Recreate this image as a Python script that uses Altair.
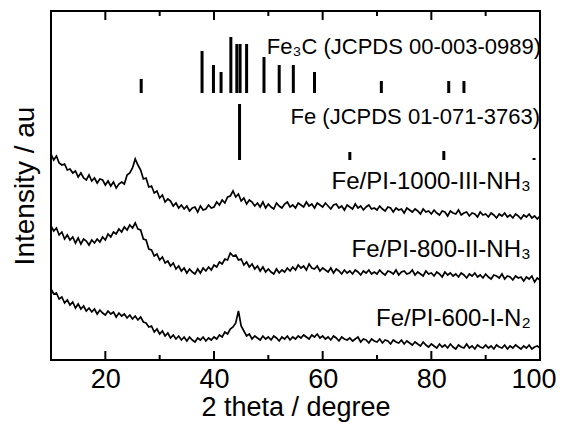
import altair as alt
import pandas as pd

FONT = "Liberation Sans"

# ---- XRD patterns (intensity in arbitrary offset units), sampled every 0.5 deg from 10 deg ----
x_start = 10.0
x_step = 0.5

curve_1000 = [
    206, 200, 204, 197, 195, 196, 190, 191, 187, 189,
    183, 187, 182, 180, 185, 179, 182, 177, 181, 180,
    175, 179, 174, 178, 172, 176, 178, 176, 185, 187,
    192, 201, 195, 190, 181, 182, 173, 174, 167, 169,
    162, 165, 158, 161, 159, 154, 157, 152, 155, 151,
    154, 149, 152, 153, 148, 154, 150, 151, 155, 152,
    153, 158, 155, 160, 157, 163, 164, 169, 163, 166,
    159, 162, 156, 160, 158, 154, 157, 153, 158, 152,
    156, 153, 151, 157, 154, 152, 156, 158, 153, 155,
    152, 157, 155, 153, 158, 154, 156, 152, 157, 155,
    153, 157, 154, 151, 155, 156, 152, 154, 150, 155,
    153, 151, 156, 152, 154, 150, 153, 155, 151, 152,
    150, 154, 151, 149, 153, 152, 148, 152, 150, 151,
    147, 152, 150, 148, 151, 149, 146, 151, 148, 149,
    146, 150, 147, 145, 149, 148, 144, 149, 147, 146,
    150, 145, 147, 148, 144, 147, 146, 143, 148, 145,
    146, 143, 147, 145, 142, 146, 144, 147, 143, 145,
    142, 146, 144, 141, 145, 143, 146, 142, 144, 141,
    144,
]

curve_800 = [
    134, 129, 132, 125, 128, 121, 125, 120, 123, 117,
    122, 116, 121, 119, 115, 120, 117, 121, 118, 123,
    120, 126, 123, 128, 126, 131, 128, 133, 130, 135,
    132, 137, 131, 130, 121, 120, 111, 110, 104, 106,
    100, 103, 97, 99, 94, 97, 91, 94, 89, 92,
    87, 91, 88, 86, 91, 87, 92, 89, 93, 90,
    95, 93, 98, 96, 101, 100, 107, 104, 105, 100,
    101, 95, 98, 93, 96, 91, 94, 89, 93, 88,
    91, 88, 86, 91, 87, 90, 88, 92, 89, 93,
    90, 95, 92, 94, 90, 96, 92, 91, 94, 89,
    92, 90, 88, 92, 87, 91, 89, 86, 90, 87,
    89, 86, 90, 88, 85, 89, 87, 90, 86, 88,
    86, 90, 87, 85, 89, 88, 86, 90, 85, 88,
    89, 86, 87, 90, 85, 88, 86, 84, 89, 86,
    87, 84, 88, 86, 83, 88, 85, 87, 84, 86,
    83, 87, 85, 82, 86, 84, 87, 83, 85, 82,
    86, 83, 81, 85, 84, 82, 86, 81, 84, 83,
    80, 84, 82, 83, 79, 83, 81, 84, 78, 82,
    80,
]

curve_600 = [
    71, 66, 67, 61, 63, 57, 60, 55, 58, 52,
    56, 51, 54, 49, 52, 48, 51, 46, 50, 47,
    45, 49, 46, 48, 43, 47, 44, 46, 42, 45,
    41, 44, 40, 43, 38, 37, 33, 34, 28, 31,
    26, 29, 24, 27, 22, 25, 21, 24, 20, 23,
    19, 23, 20, 18, 22, 20, 23, 19, 22, 20,
    23, 21, 25, 23, 28, 26, 31, 33, 37, 49,
    34, 29, 24, 26, 21, 24, 22, 20, 24, 21,
    23, 20, 24, 22, 19, 23, 21, 24, 20, 23,
    21, 24, 22, 25, 23, 21, 25, 23, 26, 22,
    24, 21, 23, 20, 24, 22, 19, 23, 21, 20,
    22, 19, 21, 23, 18, 21, 20, 17, 21, 19,
    18, 21, 17, 20, 19, 16, 20, 18, 17, 20,
    16, 19, 17, 15, 18, 16, 14, 18, 15, 13,
    16, 14, 12, 16, 13, 15, 12, 16, 13, 11,
    15, 13, 12, 16, 12, 14, 11, 15, 13, 12,
    15, 12, 14, 11, 15, 13, 12, 15, 11, 14,
    12, 15, 13, 11, 14, 12, 15, 11, 13, 14,
    12,
]

series_names = ["Fe/PI-1000-III-NH3", "Fe/PI-800-II-NH3", "Fe/PI-600-I-N2"]
series_values = [curve_1000, curve_800, curve_600]

# ---- Reference stick patterns ----
fe3c_pos = [26.6, 37.8, 39.9, 41.3, 43.1, 44.2, 44.8, 46.0, 49.2, 52.0, 54.6, 58.5, 70.8, 83.2, 86.0]
fe3c_top = [281, 309, 295, 288, 323, 316, 316, 316, 303, 295, 295, 288, 279, 279, 279]
fe3c_base = 267

fe_pos = [44.7, 65.0, 82.3, 98.9]
fe_top = [256, 208, 209, 202]
fe_base = 200

# ---- Labels ----
label_text = [
    "Fe\u2083C (JCPDS 00-003-0989)",
    "Fe (JCPDS 01-071-3763)",
    "Fe/PI-1000-III-NH\u2083",
    "Fe/PI-800-II-NH\u2083",
    "Fe/PI-600-I-N\u2082",
]
label_x = [100.2, 100.0, 98.3, 98.3, 98.3]
label_y = [306, 236, 171, 103, 34]
label_size = [22, 22, 24, 24, 24]

major_ticks = [20, 40, 60, 80]
minor_ticks = [30, 50, 70, 90]
x_labels = [20, 40, 60, 80, 100]

W, H = 489, 349

rows = []
for name, vals in zip(series_names, series_values):
    for i, v in enumerate(vals):
        rows.append({"series": name, "x": x_start + x_step * i, "v": v})
curves_df = pd.DataFrame(rows)

sticks_df = pd.DataFrame(
    [{"x": p, "v": fe3c_base, "v2": t} for p, t in zip(fe3c_pos, fe3c_top)]
    + [{"x": p, "v": fe_base, "v2": t} for p, t in zip(fe_pos, fe_top)]
)
labels_df = pd.DataFrame({"text": label_text, "x": label_x, "v": label_y, "fs": label_size})

xscale = alt.Scale(domain=[10, 100], nice=False, zero=False)
yscale = alt.Scale(domain=[0, H], nice=False, zero=False)

x_axis = alt.Axis(
    values=x_labels, title="2 theta / degree", ticks=False, domain=False, grid=False,
    labelFontSize=27, titleFontSize=27, labelFont=FONT, titleFont=FONT,
    titleFontWeight="normal", labelColor="black", titleColor="black",
    labelPadding=6, titlePadding=2, labelFlush=True, labelFlushOffset=16)
y_axis = alt.Axis(
    title="Intensity / au", labels=False, ticks=False, domain=False, grid=False,
    titleFontSize=28, titleFont=FONT, titleFontWeight="normal", titleColor="black",
    titlePadding=12)

X = alt.X("x:Q", scale=xscale, axis=x_axis)
Y = alt.Y("v:Q", scale=yscale, axis=y_axis)

lines = alt.Chart(curves_df).mark_line(color="black", strokeWidth=1.7).encode(
    x=X, y=Y, detail="series:N",
)

sticks = alt.Chart(sticks_df).mark_rule(color="black", strokeWidth=3).encode(
    x=X, y=Y, y2="v2:Q",
)

texts = alt.Chart(labels_df).mark_text(align="right", baseline="alphabetic", font=FONT, color="black").encode(
    x=X, y=Y,
    text="text:N",
    size=alt.Size("fs:Q", scale=None, legend=None),
)

def tick_layer(vals, y0, y1):
    return alt.Chart(pd.DataFrame({"x": vals})).mark_rule(color="black", strokeWidth=2).encode(
        x=X,
        y=alt.value(y0),
        y2=alt.value(y1),
    )

ticks = [
    tick_layer(major_ticks, H, H - 9),
    tick_layer(minor_ticks, H, H - 5),
    tick_layer(major_ticks, 0, 9),
    tick_layer(minor_ticks, 0, 5),
]

chart = alt.layer(lines, sticks, texts, *ticks).properties(
    width=W, height=H,
    autosize=alt.AutoSizeParams(type="none"),
    padding={"left": 43, "top": 3, "right": 17, "bottom": 66},
    background="white",
).configure_view(stroke="black", strokeWidth=2)

chart.save("out.html", embed_options={"renderer": "svg", "actions": False})
